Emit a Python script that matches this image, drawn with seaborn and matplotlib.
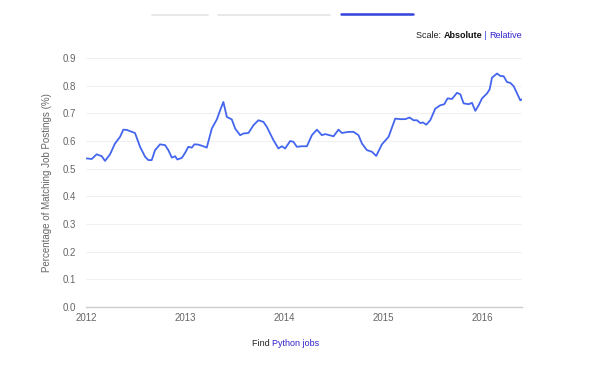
import matplotlib
matplotlib.use("Agg")
import matplotlib.pyplot as plt
import seaborn as sns
import pandas as pd
from matplotlib.lines import Line2D

# Decimal year and share of job postings (%)
years = [2012.007, 2012.058, 2012.108, 2012.159, 2012.192, 2012.243, 2012.293, 2012.344,
         2012.377, 2012.412, 2012.495, 2012.546, 2012.597, 2012.630, 2012.664, 2012.698,
         2012.748, 2012.799, 2012.832, 2012.867, 2012.900, 2012.923, 2012.968, 2013.001,
         2013.034, 2013.069, 2013.095, 2013.135, 2013.186, 2013.220, 2013.271, 2013.322,
         2013.355, 2013.388, 2013.423, 2013.473, 2013.507, 2013.557, 2013.590, 2013.641,
         2013.692, 2013.742, 2013.793, 2013.827, 2013.894, 2013.944, 2013.979, 2014.012,
         2014.063, 2014.096, 2014.130, 2014.181, 2014.232, 2014.282, 2014.333, 2014.383,
         2014.417, 2014.501, 2014.551, 2014.585, 2014.652, 2014.703, 2014.753, 2014.788,
         2014.838, 2014.889, 2014.932, 2014.990, 2015.057, 2015.124, 2015.175, 2015.226,
         2015.269, 2015.309, 2015.344, 2015.377, 2015.404, 2015.438, 2015.478, 2015.529,
         2015.579, 2015.620, 2015.653, 2015.698, 2015.748, 2015.782, 2015.815, 2015.866,
         2015.900, 2015.933, 2015.967, 2016.001, 2016.052, 2016.078, 2016.102, 2016.153,
         2016.186, 2016.220, 2016.254, 2016.287, 2016.321, 2016.355, 2016.388, 2016.405]
values = [0.537, 0.535, 0.552, 0.545, 0.528, 0.552, 0.591, 0.615,
          0.641, 0.640, 0.629, 0.579, 0.543, 0.531, 0.531, 0.567,
          0.588, 0.585, 0.567, 0.540, 0.545, 0.533, 0.539, 0.557,
          0.579, 0.576, 0.588, 0.587, 0.581, 0.576, 0.645, 0.678,
          0.711, 0.741, 0.687, 0.678, 0.645, 0.621, 0.627, 0.629,
          0.657, 0.675, 0.669, 0.651, 0.603, 0.573, 0.581, 0.573,
          0.600, 0.597, 0.579, 0.581, 0.581, 0.621, 0.641, 0.621,
          0.625, 0.617, 0.641, 0.629, 0.633, 0.633, 0.621, 0.591,
          0.567, 0.561, 0.546, 0.588, 0.615, 0.681, 0.679, 0.679,
          0.685, 0.675, 0.675, 0.665, 0.667, 0.659, 0.675, 0.717,
          0.729, 0.733, 0.754, 0.752, 0.774, 0.769, 0.736, 0.733,
          0.738, 0.709, 0.729, 0.754, 0.772, 0.787, 0.829, 0.844,
          0.835, 0.834, 0.813, 0.810, 0.798, 0.772, 0.747, 0.751]
x_ticks = [2012, 2013, 2014, 2015, 2016]
y_ticks = [0.0, 0.1, 0.2, 0.3, 0.4, 0.5, 0.6, 0.7, 0.8, 0.9]

df = pd.DataFrame({"year": years, "value": values})

sns.set_theme(style="white")
plt.rcParams["font.family"] = ["Liberation Sans", "DejaVu Sans"]

fig = plt.figure(figsize=(6.14, 3.71), dpi=100)
ax = fig.add_axes([86 / 614, 1 - 307 / 371, (522 - 86) / 614, (307 - 58) / 371])

sns.lineplot(data=df, x="year", y="value", ax=ax, color="#4466ee", linewidth=1.3)

ax.set_xlim(2012, 2016.405)
ax.set_ylim(0, 0.9)
ax.set_xticks(x_ticks)
ax.set_xticklabels([str(t) for t in x_ticks])
ax.set_yticks(y_ticks)
ax.set_yticklabels([f"{t:.1f}" for t in y_ticks])
ax.grid(axis="y", color="#f0f0f0", linewidth=0.8)
ax.set_axisbelow(True)
for s in ["top", "right", "left"]:
    ax.spines[s].set_visible(False)
ax.spines["bottom"].set_color("#cccccc")
ax.spines["bottom"].set_linewidth(1.0)
ax.tick_params(axis="y", length=5, color="#e6e6e6", width=0.8, pad=2, labelsize=7, labelcolor="#666666")
ax.tick_params(axis="x", length=0, pad=4, labelsize=7, labelcolor="#666666")
ax.set_xlabel("")
ax.set_ylabel("Percentage of Matching Job Postings (%)", fontsize=7, color="#666666", labelpad=8)

# top UI bars
fig.add_artist(Line2D([152 / 614, 208 / 614], [1 - 14.5 / 371] * 2, color="#e4e4e4", lw=1.2))
fig.add_artist(Line2D([218 / 614, 330 / 614], [1 - 14.5 / 371] * 2, color="#e4e4e4", lw=1.2))
fig.add_artist(Line2D([341 / 614, 413 / 614], [1 - 14 / 371] * 2, color="#3344dd", lw=1.8))

# Scale text, right-aligned to x=522
fig.canvas.draw()
r = fig.canvas.get_renderer()
parts = [("Scale: ", "#222222", "normal"), ("Absolute", "#111111", "bold"),
         (" | ", "#3344dd", "normal"), ("Relative", "#3322cc", "normal")]
ys = 1 - 35 / 371
texts = []
x0 = 0.0
for s, c, w in parts:
    t = fig.text(x0, ys, s, fontsize=6.5, color=c, fontweight=w, va="center")
    bb = t.get_window_extent(r)
    texts.append((t, bb.width))
    x0 += bb.width / fig.bbox.width
total = x0
start = 522 / 614 - total
xx = start
for t, wpx in texts:
    t.set_x(xx)
    xx += wpx / fig.bbox.width

# Find Python jobs
f1 = fig.text(252 / 614, 1 - 343 / 371, "Find ", fontsize=6.5, color="#222222", va="center")
bb = f1.get_window_extent(r)
fig.text(bb.x1 / fig.bbox.width, 1 - 343 / 371, "Python jobs", fontsize=6.5, color="#3322cc", va="center")

fig.savefig("out.png", dpi=100)
